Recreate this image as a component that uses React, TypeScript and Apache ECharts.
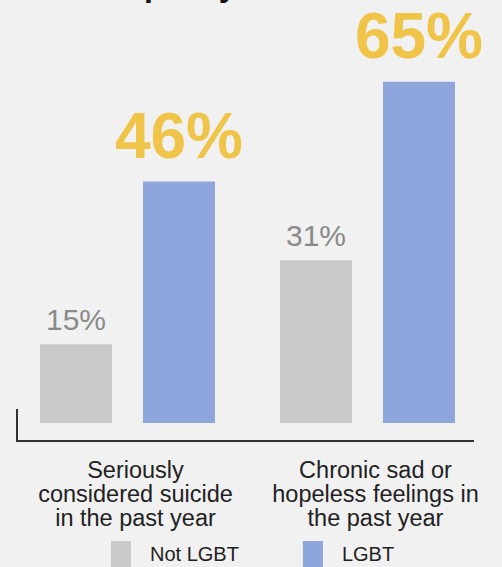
import React, { useEffect, useRef } from "react";
import * as echarts from "echarts";

const categories = [
  "Seriously\nconsidered suicide\nin the past year",
  "Chronic sad or\nhopeless feelings in\nthe past year",
];
const notLgbt = [15, 31];
const lgbt = [46, 65];
const seriesNames = ["Not LGBT", "LGBT"];

export default function App() {
  const ref = useRef<HTMLDivElement>(null);
  useEffect(() => {
    document.body.style.margin = "0";
    const chart = echarts.init(ref.current!, null, { renderer: "svg" });
    const font = "'Liberation Sans', Arial, sans-serif";
    chart.setOption({
      animation: false,
      backgroundColor: "#f1f1f1",
      textStyle: { fontFamily: font },
      grid: { left: 7.5, right: 14.5, top: 3, bottom: 144 },
      legend: {
        left: 111,
        top: 541,
        padding: 0,
        itemWidth: 20,
        itemHeight: 26,
        itemGap: 64,
        icon: "rect",
        data: seriesNames,
        textStyle: { fontSize: 20, color: "#222", padding: [0, 0, 0, 14], fontFamily: font },
      },
      xAxis: {
        type: "category",
        data: categories,
        axisLine: { show: false },
        axisTick: { show: false },
        axisLabel: {
          interval: 0,
          hideOverlap: false,
          margin: 35,
          fontSize: 23.5,
          lineHeight: 24,
          color: "#222",
          fontFamily: font,
          padding: [0, 0, 0, 16],
        },
      },
      yAxis: {
        type: "value",
        min: 0,
        max: 80,
        show: false,
        splitLine: { show: false },
      },
      series: [
        {
          name: seriesNames[0],
          type: "bar",
          data: notLgbt,
          barWidth: 72,
          barGap: "43%",
          itemStyle: { color: "#c9c9c9" },
          label: {
            show: true,
            position: "top",
            distance: 10,
            formatter: "{c}%",
            fontSize: 30,
            color: "#8a8a8a",
            fontFamily: font,
          },
        },
        {
          name: seriesNames[1],
          type: "bar",
          data: lgbt,
          barWidth: 72,
          barGap: "43%",
          itemStyle: { color: "#8ea6dd" },
          label: {
            show: true,
            position: "top",
            distance: 14,
            formatter: "{c}%",
            fontSize: 64,
            fontWeight: "bold",
            color: "#efc448",
            fontFamily: font,
          },
        },
      ],
      graphic: [
        {
          type: "line",
          shape: { x1: 16, y1: 441, x2: 474, y2: 441 },
          style: { stroke: "#333", lineWidth: 2 },
        },
        {
          type: "line",
          shape: { x1: 17, y1: 409, x2: 17, y2: 441 },
          style: { stroke: "#333", lineWidth: 2 },
        },
        {
          type: "text",
          x: 144,
          y: 1,
          style: {
            text: "past year",
            fontSize: 32,
            fontWeight: "bold",
            fill: "#111",
            fontFamily: font,
            verticalAlign: "bottom",
          },
        },
      ],
    });
    return () => chart.dispose();
  }, []);
  return (
    <div
      ref={ref}
      style={{ position: "absolute", left: 0, top: 0, width: 502, height: 567 }}
    />
  );
}
